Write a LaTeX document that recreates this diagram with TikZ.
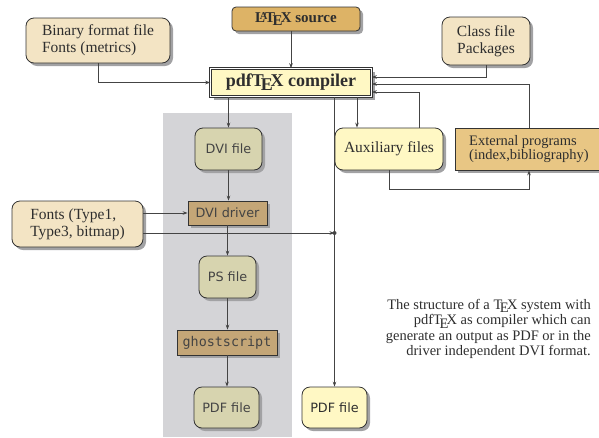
\documentclass[tikz,border=0pt]{standalone}
\usepackage{fontspec}
\setmainfont{Liberation Serif}
\setsansfont{DejaVu Sans}
\setmonofont{DejaVu Sans Mono}
\usetikzlibrary{arrows.meta,calc}
\definecolor{edge}{HTML}{333333}
\definecolor{linec}{HTML}{444444}
\definecolor{txt}{HTML}{2E2E2E}
\definecolor{cream}{HTML}{F3E4C4}
\definecolor{gold}{HTML}{DDB366}
\definecolor{lyellow}{HTML}{FFF8C4}
\definecolor{extc}{HTML}{E8C684}
\definecolor{panel}{HTML}{D4D4D7}
\definecolor{khaki}{HTML}{D7D4AF}
\definecolor{tan}{HTML}{C4A677}
\definecolor{shadowc}{HTML}{A2A2A4}
\begin{document}
\begin{tikzpicture}[x=1pt,y=-1pt,
  box/.style={draw=edge, line width=0.8pt, text=txt, inner sep=0pt,
    preaction={fill=shadowc, transform canvas={xshift=3pt,yshift=-3pt}}},
  rbox/.style={box, rounded corners=8pt},
  serifT/.style={font=\fontsize{15.5}{17}\selectfont},
  sansT/.style={font=\sffamily\fontsize{12.8}{15}\selectfont, text=linec},
  monoT/.style={font=\ttfamily\fontsize{13.4}{15}\selectfont, text=linec},
  conn/.style={draw=linec, line width=0.7pt, -{Stealth[length=5pt,width=3.6pt]}},
  plain/.style={draw=linec, line width=0.7pt}
]
\useasboundingbox (0,0) rectangle (599,437);
% background panel
\fill[panel] (163,113) rectangle (292,437);

% nodes
\node[box, rounded corners=4pt, fill=gold, minimum width=128pt, minimum height=24pt,
  font=\bfseries\fontsize{15}{17}\selectfont] (latex) at (296,19) {\LaTeX\ source};
\node[rbox, fill=cream, serifT, align=left, minimum width=144pt, minimum height=45pt]
  (binary) at (98,40.5) {Binary format file\\Fonts (metrics)};
\node[rbox, fill=cream, serifT, align=center, minimum width=88pt, minimum height=48pt]
  (classf) at (486,41) {Class file\\Packages};
\node[box, fill=lyellow, draw=edge, line width=0.7pt, double=white, double distance=1.6pt,
  minimum width=161pt, minimum height=28pt,
  font=\bfseries\fontsize{18}{20}\selectfont] (pdftex) at (291,82.5) {pdf\TeX\ compiler};

\node[rbox, fill=khaki, sansT, minimum width=67pt, minimum height=42pt] (dvif) at (228.5,149) {DVI file};
\node[box, fill=tan, sansT, minimum width=79pt, minimum height=24pt] (dvidrv) at (227.5,213) {DVI driver};
\node[rbox, fill=cream, serifT, align=left, minimum width=131pt, minimum height=46pt]
  (fonts) at (77.5,224) {Fonts (Type1,\\Type3, bitmap)};
\node[rbox, fill=khaki, sansT, minimum width=57pt, minimum height=42pt] (psf) at (227.5,277) {PS file};
\node[box, fill=tan, monoT, minimum width=100pt, minimum height=25pt] (gs) at (227,342.5) {ghostscript};
\node[rbox, fill=khaki, sansT, minimum width=65pt, minimum height=41pt] (pdfg) at (226.5,407.5) {PDF file};
\node[rbox, fill=lyellow, sansT, text=txt, minimum width=65pt, minimum height=41pt] (pdfy) at (334.5,407.5) {PDF file};
\node[rbox, fill=lyellow, serifT, minimum width=108pt, minimum height=42pt] (aux) at (389,149) {Auxiliary files};
\node[box, fill=extc, align=left, font=\fontsize{14.5}{14.5}\selectfont,
  minimum width=148pt, minimum height=42pt] (ext) at (529,149) {External programs\\(index,bibliography)};

% caption
\node[anchor=east, align=right, inner sep=0pt, text=txt, font=\fontsize{14.5}{15.6}\selectfont]
  (cap) at (591,329) {The structure of a \TeX\ system with\\pdf\TeX\ as compiler which can\\generate an output as PDF or in the\\driver independent DVI format.};

% connectors into compiler
\draw[conn] (latex.south -| pdftex.north) -- (pdftex.north);
\draw[conn] (binary.south) |- (pdftex.west);
\draw[conn] (classf.south) |- ([yshift=5.5pt]pdftex.east);
\draw[conn] (ext.north) |- ([yshift=-1.5pt]pdftex.east);
\coordinate (auxup) at ([xshift=30pt]aux.north);
\draw[conn] (auxup) |- ([yshift=-9.5pt]pdftex.east);

% from compiler
\coordinate (auxin) at ([xshift=-32pt]aux.north);
\draw[conn] (pdftex.south -| auxin) -- (auxin);
\draw[conn] (pdftex.south -| dvif.north) -- (dvif.north);
\draw[conn] (pdftex.south -| pdfy.north) -- (pdfy.north);
\draw[conn] (aux.south) -- ++(0,19) -| (ext.south);

% DVI chain
\draw[conn] (dvif.south) -- (dvif.south |- dvidrv.north);
\draw[conn] (dvidrv.south) -- (dvidrv.south |- psf.north);
\draw[conn] (psf.south) -- (psf.south |- gs.north);
\draw[conn] (gs.south) -- (gs.south |- pdfg.north);

% fonts
\draw[conn] (fonts.east |- dvidrv.west) -- (dvidrv.west);
\coordinate (j) at (pdfy.north |- 0,233);
\draw[conn] (fonts.east |- j) -- (j);
\fill[linec] (j) circle (2pt);
\end{tikzpicture}
\end{document}
